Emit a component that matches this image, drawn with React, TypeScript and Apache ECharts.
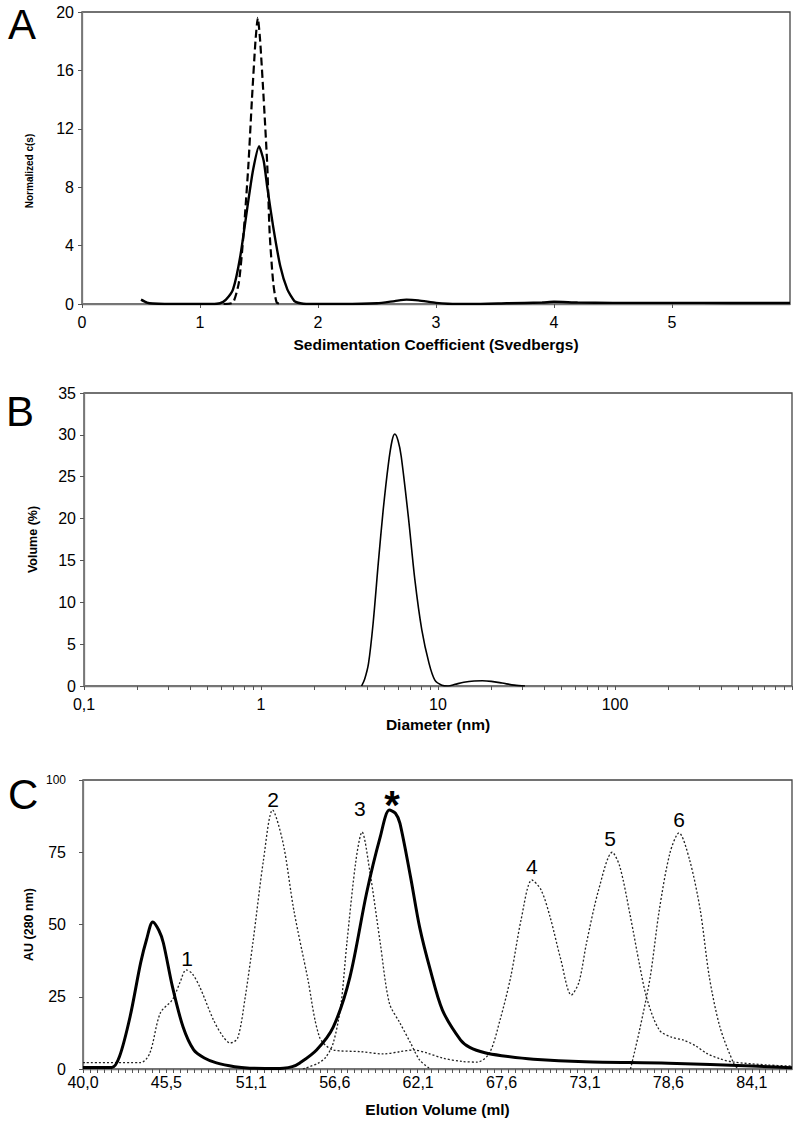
import React, { useEffect, useRef } from "react";
import * as echarts from "echarts";

const FONT = "'Liberation Sans', Arial, Helvetica, sans-serif";

// ---------- Panel A : sedimentation c(s) ----------
const aSolid: number[][] = [
  [0.5, 0.3], [0.55, 0.1], [0.6, 0.03], [0.7, 0], [0.9, 0], [1.1, 0], [1.17, 0.05], [1.22, 0.3],
  [1.28, 1.0], [1.34, 3.2], [1.41, 7.1], [1.45, 9.2], [1.5, 10.8], [1.54, 9.8], [1.57, 8.0],
  [1.62, 5.3], [1.68, 2.6], [1.74, 1.0], [1.8, 0.2], [1.85, 0.05], [1.9, 0], [2.2, 0], [2.5, 0.05],
  [2.65, 0.2], [2.75, 0.3], [2.85, 0.25], [3.0, 0.08], [3.1, 0.02], [3.3, 0], [3.6, 0.05],
  [3.9, 0.1], [4.0, 0.15], [4.2, 0.1], [4.5, 0.08], [5.0, 0.08], [5.5, 0.07], [6.0, 0.07],
];
const aDashed: number[][] = [
  [1.2, 0], [1.28, 0.1], [1.33, 1.5], [1.37, 4.9], [1.41, 9.5], [1.44, 14], [1.47, 18],
  [1.49, 19.6], [1.51, 18], [1.54, 14], [1.57, 9.5], [1.59, 4.9], [1.62, 1.5], [1.65, 0.1], [1.7, 0],
];

// ---------- Panel B : DLS volume distribution ----------
const bVolume: number[][] = [
  [3.7, 0], [3.85, 0.8], [4.05, 2.7], [4.3, 7.5], [4.6, 14.7], [4.9, 21], [5.25, 26.6], [5.5, 29.3],
  [5.7, 30.1], [5.95, 29.3], [6.2, 27.4], [6.8, 20.2], [7.4, 12.7], [8.1, 6.7], [8.9, 2.7],
  [9.6, 0.7], [10.5, 0.1], [11.4, 0], [12.5, 0.2], [14, 0.45], [16, 0.6], [17.8, 0.62], [20, 0.55],
  [23, 0.35], [27, 0.1], [31, 0],
];
const bLabelValues = [0.1, 1, 10, 100];
const bDecades = [0.1, 1, 10, 100];
const bMultipliers = [1, 2, 3, 4, 5, 6, 7, 8, 9];

// ---------- Panel C : size-exclusion chromatography ----------
const cSample: number[][] = [
  [40, 0.5], [41.9, 0.5], [42.4, 4.2], [43.1, 18], [43.8, 36.7], [44.2, 45], [44.6, 50.9], [45.0, 48],
  [45.3, 43.6], [45.9, 28.4], [46.6, 14.5], [47.3, 6.6], [48.0, 3.8], [48.8, 2.1], [50, 0.8],
  [51, 0.3], [52, 0.2], [53.2, 0.3], [53.8, 0.8], [54.3, 2.1], [55.4, 6.6], [56.5, 14.5],
  [57.6, 31.8], [58.7, 60.9], [59.6, 80.3], [60.2, 89.6], [60.6, 88.5], [60.9, 85], [61.6, 66.4],
  [62.2, 49], [62.9, 34.3], [63.7, 20.4], [64.9, 10], [65.5, 7.5], [66.5, 5.6], [67.6, 4.6],
  [69.7, 3.4], [73.1, 2.5], [78.6, 2.0], [84.1, 1.0], [86.75, 0.4],
];
const cStandards: number[][] = [
  [40, 2.2], [43.8, 2.2], [44.4, 5.4], [45.1, 19.4], [45.9, 24], [46.4, 30], [46.8, 34.3], [47.2, 33],
  [47.7, 28.4], [48.6, 17], [49.2, 11.5], [49.7, 9], [50.2, 10.7], [50.7, 25], [51.2, 43.6],
  [51.9, 72.3], [52.5, 89.6], [53.2, 78], [53.9, 55], [54.8, 31.8], [55.6, 11], [56.5, 6.6],
  [58.3, 6], [59.8, 5.2], [60.9, 6], [61.8, 6.6], [62.7, 5.5], [63.7, 3.8], [65.0, 2.6], [66.0, 2.4],
  [66.8, 5.5], [67.5, 17], [68.2, 31.8], [68.9, 52], [69.6, 65.4], [70.2, 62], [70.8, 52.6],
  [71.5, 38], [72.2, 25.6], [72.7, 30], [73.2, 43.6], [74.0, 62], [74.9, 75], [75.4, 70],
  [76.1, 52.6], [76.7, 36], [77.2, 24], [78.0, 13.5], [78.8, 11], [79.6, 10], [80.4, 8], [81.1, 5.5],
  [82.0, 3.5], [82.9, 2.4], [85.1, 1.4], [86.75, 1.0],
];
const cStandard3: number[][] = [
  [54.5, 0], [55.5, 2], [56.0, 4], [56.5, 9], [57.0, 22], [57.4, 43.6], [58.0, 72.3], [58.4, 82],
  [58.9, 68.8], [59.6, 43.6], [60.2, 22.8], [60.9, 15.9], [61.6, 9], [62.2, 3.1], [62.9, 0],
];
const cStandard6: number[][] = [
  [76.1, 0], [76.7, 13.5], [77.4, 31.8], [78.0, 55], [78.7, 74.7], [79.3, 81.7], [80.0, 72.3],
  [80.7, 55], [81.3, 31.8], [82.0, 14.5], [82.9, 2], [83.2, 0],
];
const cLabelValues = [40.0, 45.5, 51.1, 56.6, 62.1, 67.6, 73.1, 78.6, 84.1];
const cMinorStep = 5.5125 / 12;
const peakLabelText = ["1", "2", "3", "*", "4", "5", "6"];
const peakLabelX = [46.86, 52.53, 58.26, 60.37, 69.6, 74.75, 79.3];
const peakLabelY = [38.1, 93.1, 90.0, 91.3, 70.2, 79.6, 86.5];

const comma = (v: number | string) => String(v).replace(".", ",");

function buildOption() {
  const bTicks: number[] = [];
  bDecades.forEach((d) => bMultipliers.forEach((m) => bTicks.push(+(d * m).toPrecision(3))));
  bTicks.push(1000);
  const cTicks: number[] = [];
  for (let v = 40; v <= 86.75; v += cMinorStep) cTicks.push(+v.toFixed(4));

  const axisLine = { show: true, lineStyle: { color: "#777", width: 1.3 } };
  const tickStyle = { show: true, length: 4, lineStyle: { color: "#555", width: 1 } };
  const labelStyle = { fontFamily: FONT, fontSize: 16, color: "#000" };
  const xNameStyle = { fontFamily: FONT, fontSize: 15.5, fontWeight: "bold" as const, color: "#000" };
  const dotted = { color: "#222", width: 1.3, type: [2, 2] };

  return {
    animation: false,
    backgroundColor: "#fff",
    graphic: [
      { type: "text", left: 8, top: 3, style: { text: "A", font: `42px ${FONT}`, fill: "#000" } },
      { type: "text", left: 6, top: 390, style: { text: "B", font: `42px ${FONT}`, fill: "#000" } },
      { type: "text", left: 8, top: 773, style: { text: "C", font: `42px ${FONT}`, fill: "#000" } },
    ],
    grid: [
      { left: 82, top: 12, width: 708, height: 292, show: true, borderColor: "#444", borderWidth: 1.3, backgroundColor: "transparent" },
      { left: 84, top: 393, width: 708, height: 293, show: true, borderColor: "#444", borderWidth: 1.3, backgroundColor: "transparent" },
      { left: 83, top: 780, width: 709, height: 289, show: true, borderColor: "#444", borderWidth: 1.3, backgroundColor: "transparent" },
    ],
    xAxis: [
      {
        gridIndex: 0, type: "value", min: 0, max: 6, interval: 1,
        name: "Sedimentation Coefficient (Svedbergs)", nameLocation: "middle", nameGap: 32,
        nameTextStyle: xNameStyle,
        axisLine, axisTick: tickStyle, splitLine: { show: false },
        axisLabel: { ...labelStyle, margin: 10, showMaxLabel: false },
      },
      {
        gridIndex: 1, type: "log", logBase: 10, min: 0.1, max: 1000,
        name: "Diameter (nm)", nameLocation: "middle", nameGap: 30,
        nameTextStyle: xNameStyle,
        axisLine, splitLine: { show: false },
        axisTick: { ...tickStyle, customValues: bTicks },
        axisLabel: { ...labelStyle, margin: 10, customValues: bLabelValues, formatter: (v: number) => comma(v) },
      },
      {
        gridIndex: 2, type: "value", min: 40, max: 86.75,
        name: "Elution Volume (ml)", nameLocation: "middle", nameGap: 32,
        nameTextStyle: xNameStyle,
        axisLine, splitLine: { show: false },
        axisTick: { ...tickStyle, customValues: cTicks },
        axisLabel: { ...labelStyle, margin: 5, customValues: cLabelValues, formatter: (v: number) => comma(v.toFixed(1)) },
      },
    ],
    yAxis: [
      {
        gridIndex: 0, type: "value", min: 0, max: 20, interval: 4,
        name: "Normalized c(s)", nameLocation: "middle", nameGap: 48,
        nameTextStyle: { fontFamily: FONT, fontSize: 10, fontWeight: "bold", color: "#000", padding: [0, 26, 0, 0] },
        axisLine, axisTick: tickStyle, splitLine: { show: false },
        axisLabel: { ...labelStyle, margin: 8 },
      },
      {
        gridIndex: 1, type: "value", min: 0, max: 35, interval: 5,
        name: "Volume (%)", nameLocation: "middle", nameGap: 45,
        nameTextStyle: { fontFamily: FONT, fontSize: 12.5, fontWeight: "bold", color: "#000" },
        axisLine, axisTick: tickStyle, splitLine: { show: false },
        axisLabel: { ...labelStyle, margin: 8 },
      },
      {
        gridIndex: 2, type: "value", min: 0, max: 100, interval: 25,
        name: "AU (280 nm)", nameLocation: "middle", nameGap: 47,
        nameTextStyle: { fontFamily: FONT, fontSize: 12.5, fontWeight: "bold", color: "#000" },
        axisLine, axisTick: tickStyle, splitLine: { show: false },
        axisLabel: {
          ...labelStyle, margin: 17,
          formatter: (v: number) => (v === 100 ? "{s|100}" : String(v)),
          rich: { s: { fontFamily: FONT, fontSize: 12, color: "#000" } },
        },
      },
    ],
    series: [
      {
        type: "line", name: "c(s) solid", xAxisIndex: 0, yAxisIndex: 0, data: aSolid, showSymbol: false,
        smooth: 0.2, lineStyle: { color: "#000", width: 2.4 },
      },
      {
        type: "line", name: "c(s) dashed", xAxisIndex: 0, yAxisIndex: 0, data: aDashed, showSymbol: false,
        smooth: 0.2, lineStyle: { color: "#000", width: 2.2, type: [8, 4] },
      },
      {
        type: "line", name: "Volume", xAxisIndex: 1, yAxisIndex: 1, data: bVolume, showSymbol: false,
        smooth: 0.3, lineStyle: { color: "#000", width: 1.6 },
      },
      {
        type: "line", name: "Standards", xAxisIndex: 2, yAxisIndex: 2, data: cStandards, showSymbol: false,
        smooth: 0.3, lineStyle: dotted,
      },
      {
        type: "line", name: "Standard 3", xAxisIndex: 2, yAxisIndex: 2, data: cStandard3, showSymbol: false,
        smooth: 0.3, lineStyle: dotted,
      },
      {
        type: "line", name: "Standard 6", xAxisIndex: 2, yAxisIndex: 2, data: cStandard6, showSymbol: false,
        smooth: 0.3, lineStyle: dotted,
      },
      {
        type: "line", name: "Sample", xAxisIndex: 2, yAxisIndex: 2, data: cSample, showSymbol: false,
        smooth: 0.3, lineStyle: { color: "#000", width: 3 }, z: 5,
      },
      {
        type: "scatter", name: "Peak labels", xAxisIndex: 2, yAxisIndex: 2, z: 10, silent: true,
        symbolSize: 1, itemStyle: { color: "transparent" },
        data: peakLabelX.map((x, i) => ({
          value: [x, peakLabelY[i]],
          name: peakLabelText[i],
          label: peakLabelText[i] === "*" ? { fontSize: 40, fontWeight: "bold" } : undefined,
        })),
        label: {
          show: true, position: "inside", formatter: "{b}",
          fontFamily: FONT, fontSize: 21, color: "#000", opacity: 1,
          textBorderWidth: 0, textBorderColor: "transparent",
        },
      },
    ],
  };
}

export default function App() {
  const ref = useRef<HTMLDivElement>(null);
  useEffect(() => {
    if (!ref.current) return;
    const chart = echarts.init(ref.current, null, { renderer: "svg" });
    chart.setOption(buildOption() as any);
    return () => chart.dispose();
  }, []);
  return (
    <div
      ref={ref}
      style={{ position: "absolute", left: 0, top: 0, width: 800, height: 1121, background: "#fff" }}
    />
  );
}
